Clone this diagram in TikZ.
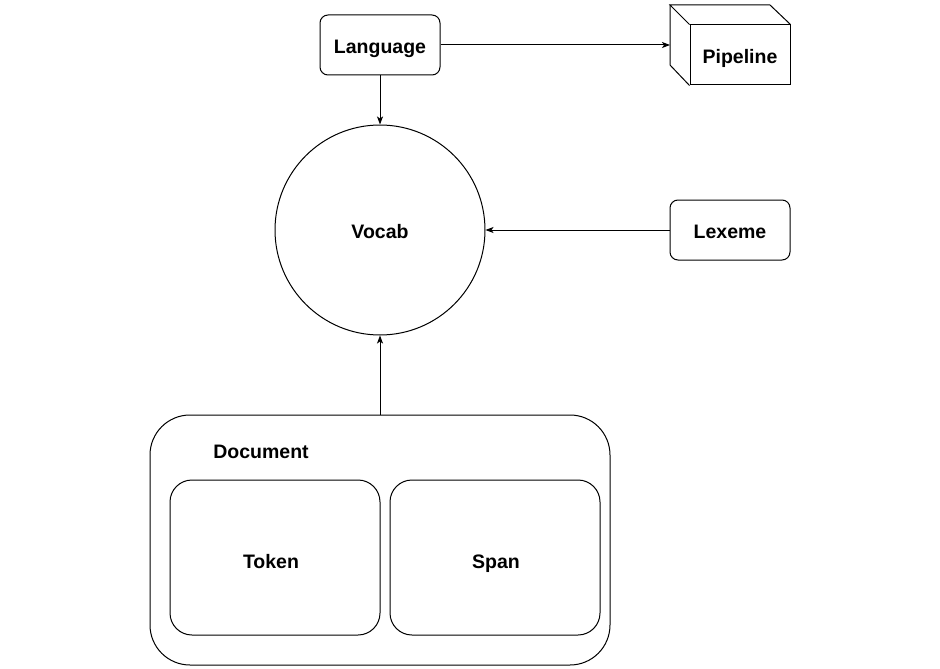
\documentclass[tikz,border=0pt]{standalone}
\usepackage{fontspec}
\setmainfont{Liberation Sans}
\usetikzlibrary{arrows.meta}
\begin{document}
\begin{tikzpicture}[x=1pt,y=-1pt,
  lbl/.style={font=\fontsize{19.5}{22}\selectfont\bfseries, text height=0.72em, text depth=0pt, yshift=-3.5pt},
  rbox/.style={draw, line width=1pt, rounded corners=8pt, minimum width=120pt, minimum height=60pt, inner sep=0pt},
  inbox/.style={draw, line width=1pt, rounded corners=22pt, minimum width=210pt, minimum height=155pt, inner sep=0pt},
  conn/.style={line width=1pt, -{Stealth[length=8pt,width=6pt,inset=2pt]}},
  edge/.style={line width=1pt}]
\useasboundingbox (0,0) rectangle (940,669);
% Language
\node[rbox] (lang) at (380,45) {};
\node[lbl] (langlbl) at (380,46.5) {Language};
% Pipeline cube
\coordinate (pb1) at (670,5);
\coordinate (pb2) at (770,5);
\coordinate (pb3) at (670,65);
\node[draw, line width=1pt, minimum width=100pt, minimum height=60pt, inner sep=0pt] (pipe) at (740,55) {};
\node[lbl] (pipelbl) at (740,56) {Pipeline};
\draw[edge] (pipe.north west) -- (pb1) -- (pb2) -- (pipe.north east);
\draw[edge] (pb1) -- (pb3) -- (pipe.south west);
\coordinate (pin) at (670,45);
% Vocab
\node[draw, circle, line width=1pt, minimum size=210pt, inner sep=0pt] (vocab) at (380,230) {};
\node[lbl] (vocablbl) at (380,231) {Vocab};
% Lexeme
\node[rbox] (lex) at (730,230) {};
\node[lbl] (lexlbl) at (730,231) {Lexeme};
% Document
\node[draw, line width=1pt, rounded corners=40pt, minimum width=460pt, minimum height=250pt, inner sep=0pt] (doc) at (380,540) {};
\node[lbl] (doclbl) at (261,451) {Document};
\node[inbox] (token) at (275,557.5) {};
\node[lbl] (tokenlbl) at (271,561) {Token};
\node[inbox] (span) at (495,557.5) {};
\node[lbl] (spanlbl) at (496,561) {Span};
% connectors
\draw[conn] (lang.east) -- (pin);
\draw[conn] (lang.south) -- (vocab.north);
\draw[conn] (lex.west) -- (vocab.east);
\draw[conn] (doc.north) -- (vocab.south);
\end{tikzpicture}
\end{document}
